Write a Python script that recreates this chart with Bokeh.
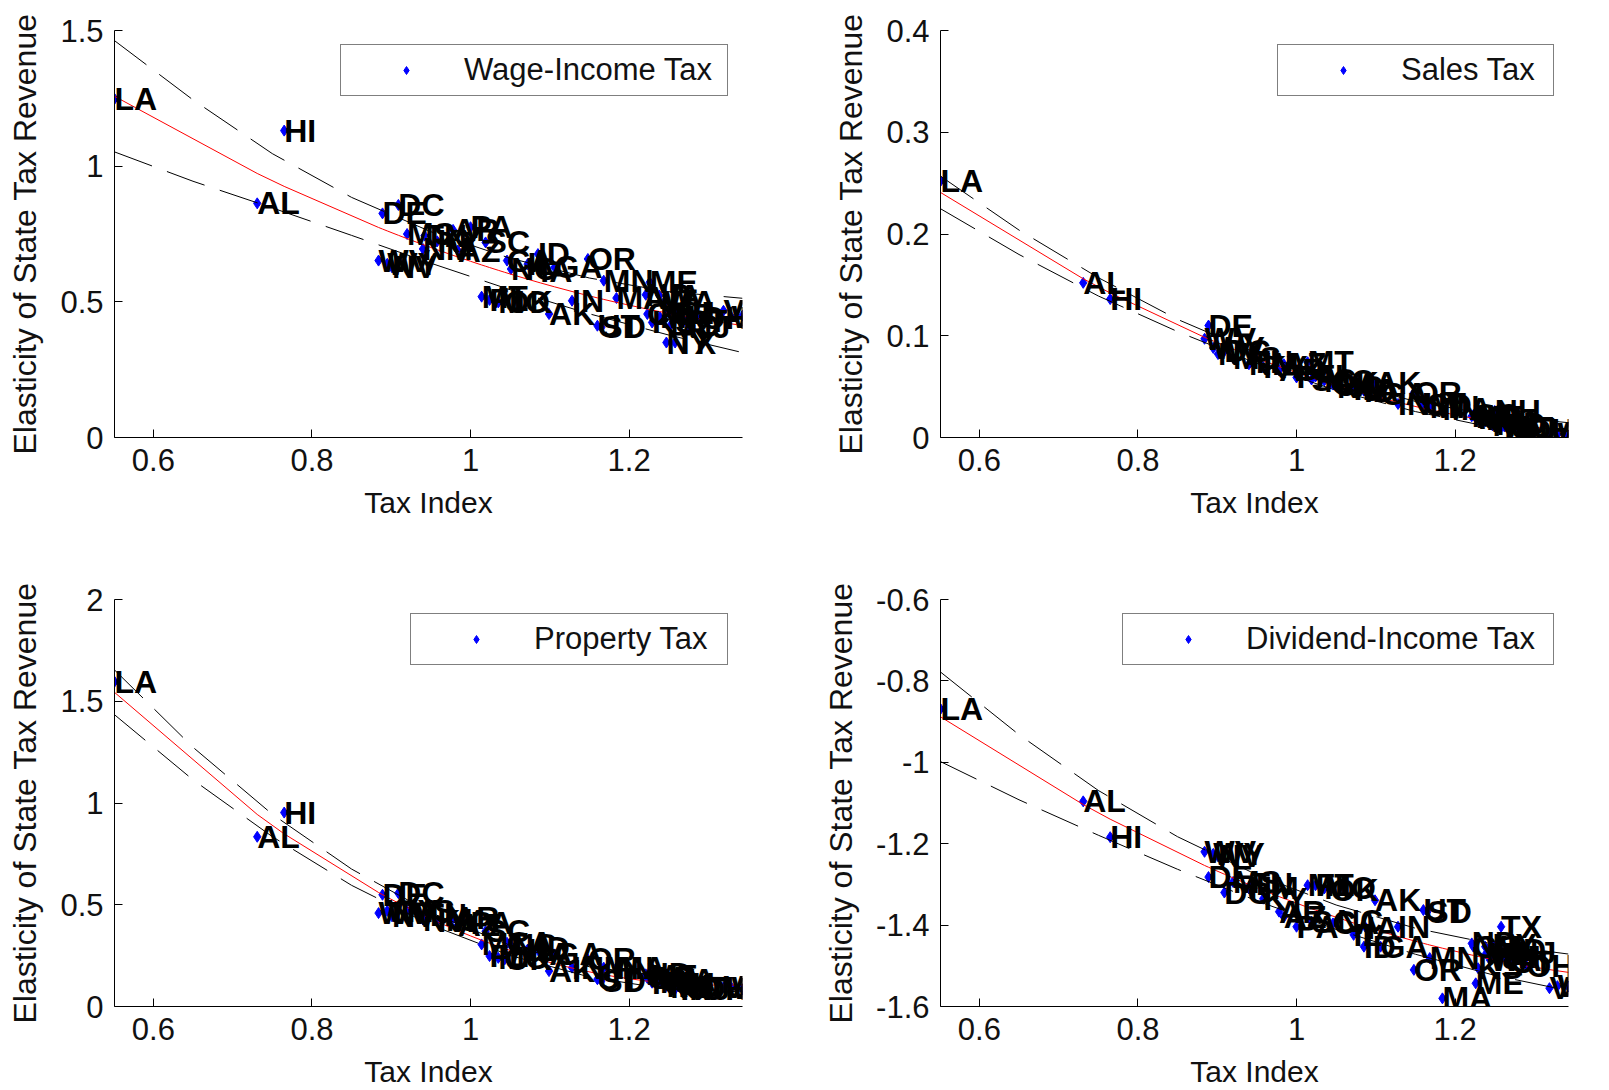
import numpy as np
from bokeh.plotting import figure
from bokeh.models import ColumnDataSource, Label, Range1d, FixedTicker
from bokeh.layouts import gridplot
from bokeh.embed import file_html
from bokeh.resources import INLINE

# ---------------- data ----------------
states = ["LA", "AL", "HI", "WV", "DE", "WY", "NV", "DC", "MS", "NM", "TN", "KY", "AR",
          "AZ", "PA", "MT", "SC", "FL", "MO", "OK", "CA", "NC", "IL", "ID", "IA", "AK",
          "GA", "IN", "OR", "UT", "SD", "MN", "MA", "ND", "CO", "ME", "KS", "VA", "MI",
          "WA", "NY", "NH", "MD", "TX", "RI", "CT", "NJ", "OH", "VT", "WI", "NE"]
tax_index = [0.551, 0.731, 0.765, 0.884, 0.889, 0.895, 0.901, 0.909, 0.920, 0.940, 0.942,
             0.958, 0.978, 0.984, 1.000, 1.014, 1.019, 1.024, 1.035, 1.043, 1.046, 1.051,
             1.072, 1.085, 1.088, 1.099, 1.106, 1.128, 1.148, 1.160, 1.165, 1.168, 1.184,
             1.221, 1.223, 1.226, 1.229, 1.238, 1.239, 1.244, 1.247, 1.250, 1.252, 1.258,
             1.262, 1.270, 1.276, 1.290, 1.319, 1.329, 1.343]
wage = [1.248, 0.863, 1.131, 0.652, 0.826, 0.640, 0.627, 0.857, 0.750, 0.695, 0.744,
        0.723, 0.765, 0.689, 0.775, 0.519, 0.719, 0.507, 0.498, 0.498, 0.652, 0.621,
        0.639, 0.676, 0.615, 0.455, 0.627, 0.504, 0.658, 0.412, 0.406, 0.578, 0.514,
        0.526, 0.455, 0.572, 0.424, 0.523, 0.443, 0.498, 0.350, 0.460, 0.412, 0.350,
        0.460, 0.430, 0.406, 0.440, 0.467, 0.443, 0.449]
sales = [0.252, 0.152, 0.136, 0.097, 0.110, 0.088, 0.082, 0.085, 0.078, 0.072, 0.074,
         0.069, 0.066, 0.072, 0.059, 0.074, 0.057, 0.060, 0.056, 0.054, 0.052, 0.050,
         0.048, 0.046, 0.047, 0.054, 0.043, 0.033, 0.044, 0.033, 0.032, 0.030, 0.028,
         0.021, 0.022, 0.020, 0.019, 0.016, 0.018, 0.015, 0.012, 0.026, 0.013, 0.010,
         0.011, 0.009, 0.008, 0.007, 0.004, 0.003, 0.002]
prop = [1.596, 0.834, 0.953, 0.459, 0.549, 0.470, 0.443, 0.557, 0.470, 0.427, 0.450,
        0.419, 0.435, 0.400, 0.410, 0.305, 0.370, 0.248, 0.239, 0.231, 0.313, 0.300,
        0.280, 0.288, 0.260, 0.174, 0.256, 0.191, 0.231, 0.134, 0.125, 0.191, 0.191,
        0.158, 0.140, 0.150, 0.117, 0.142, 0.120, 0.130, 0.101, 0.110, 0.095, 0.085,
        0.100, 0.090, 0.085, 0.088, 0.095, 0.093, 0.085]
div = [-0.869, -1.096, -1.184, -1.220, -1.282, -1.225, -1.231, -1.320, -1.294, -1.310,
       -1.300, -1.335, -1.367, -1.380, -1.404, -1.302, -1.392, -1.302, -1.310, -1.314,
       -1.396, -1.390, -1.424, -1.453, -1.408, -1.339, -1.453, -1.404, -1.510, -1.363,
       -1.367, -1.481, -1.580, -1.445, -1.453, -1.543, -1.506, -1.453, -1.470, -1.486,
       -1.449, -1.478, -1.460, -1.404, -1.478, -1.490, -1.469, -1.500, -1.555, -1.550,
       -1.551]

# confidence half-width of the quadratic fit, read at these tax-index values
band_x = [0.551, 0.65, 0.75, 0.85, 0.95, 1.05, 1.15, 1.25, 1.343]
wage_band = [0.205, 0.15, 0.10, 0.07, 0.058, 0.058, 0.066, 0.08, 0.10]
sales_band = [0.016, 0.012, 0.009, 0.006, 0.005, 0.005, 0.005, 0.006, 0.008]
prop_band = [0.11, 0.08, 0.055, 0.04, 0.03, 0.025, 0.025, 0.03, 0.035]
div_band = [0.11, 0.08, 0.055, 0.04, 0.032, 0.03, 0.032, 0.038, 0.045]

x_ticks = [0.6, 0.8, 1, 1.2]
x_tick_labels = ["0.6", "0.8", "1", "1.2"]
wage_ticks = [0, 0.5, 1, 1.5]
wage_tick_labels = ["0", "0.5", "1", "1.5"]
sales_ticks = [0, 0.1, 0.2, 0.3, 0.4]
sales_tick_labels = ["0", "0.1", "0.2", "0.3", "0.4"]
prop_ticks = [0, 0.5, 1, 1.5, 2]
prop_tick_labels = ["0", "0.5", "1", "1.5", "2"]
div_ticks = [-1.6, -1.4, -1.2, -1, -0.8, -0.6]
div_tick_labels = ["-1.6", "-1.4", "-1.2", "-1", "-0.8", "-0.6"]

FONT = "Liberation Sans"


def make_panel(name, yvals, yr, yticks, ytlabels, band, borders, legend_label_width):
    L, R, T, B = borders
    p = figure(frame_width=628, frame_height=407,
               x_range=Range1d(min(tax_index), max(tax_index)), y_range=Range1d(*yr),
               output_backend="svg", toolbar_location=None,
               min_border_left=L, min_border_right=R, min_border_top=T, min_border_bottom=B)
    p.xgrid.visible = False
    p.ygrid.visible = False
    p.outline_line_color = None
    p.background_fill_color = "white"

    src = ColumnDataSource(dict(x=tax_index, y=yvals, state=states))
    for sx, sy, st in zip(tax_index, yvals, states):
        p.add_layout(Label(x=sx, y=sy, text=st, text_font=FONT, text_font_style="bold",
                           text_font_size="32px", text_color="black",
                           text_baseline="middle", text_align="left"))

    p.scatter("x", "y", source=src, marker="diamond", size=11,
              fill_color="blue", line_color="blue", legend_label=name)

    # quadratic least-squares fit of the panel's data
    xs = np.array(tax_index)
    coef = np.polyfit(xs, np.array(yvals), 2)
    xfit = np.sort(xs)
    yfit = np.polyval(coef, xfit)
    bx = np.array(band_x)
    by = np.polyval(coef, bx)
    bw = np.array(band)
    p.line(bx, by + bw, line_color="black", line_width=1, line_dash="40 16")
    p.line(bx, by - bw, line_color="black", line_width=1, line_dash="40 16")
    p.line(xfit, yfit, line_color="red", line_width=1)

    p.xaxis.ticker = FixedTicker(ticks=x_ticks)
    p.xaxis.major_label_overrides = dict(zip(x_ticks, x_tick_labels))
    p.yaxis.ticker = FixedTicker(ticks=yticks)
    p.yaxis.major_label_overrides = dict(zip(yticks, ytlabels))
    p.xaxis.axis_label = "Tax Index"
    p.yaxis.axis_label = "Elasticity of State Tax Revenue"
    for ax in (p.xaxis[0], p.yaxis[0]):
        ax.major_tick_in = 8
        ax.major_tick_out = 0
        ax.minor_tick_in = 0
        ax.minor_tick_out = 0
        ax.axis_line_color = "black"
        ax.axis_line_width = 1
        ax.major_tick_line_color = "black"
        ax.major_label_text_font = FONT
        ax.major_label_text_font_size = "31px"
        ax.major_label_text_color = "#111111"
        ax.major_label_standoff = 11
        ax.axis_label_text_font = FONT
        ax.axis_label_text_font_style = "normal"
        ax.axis_label_text_color = "#111111"
    p.xaxis.axis_label_text_font_size = "30px"
    p.yaxis.axis_label_text_font_size = "32px"
    p.xaxis.axis_label_standoff = 12
    p.yaxis.axis_label_standoff = 14

    leg = p.legend[0]
    leg.location = "top_right"
    leg.margin = 14
    leg.padding = 7
    leg.spacing = 0
    leg.glyph_width = 116
    leg.label_standoff = 0
    leg.label_width = legend_label_width
    leg.border_line_color = "black"
    leg.border_line_width = 1
    leg.background_fill_color = "white"
    leg.background_fill_alpha = 1
    leg.label_text_font = FONT
    leg.label_text_font_size = "31px"
    leg.label_text_color = "#111111"
    return p


p1 = make_panel("Wage-Income Tax", wage, (0, 1.5), wage_ticks, wage_tick_labels,
                wage_band, (114, 76, 30, 95), 256)
p2 = make_panel("Sales Tax", sales, (0, 0.4), sales_ticks, sales_tick_labels,
                sales_band, (122, 36, 30, 95), 145)
p3 = make_panel("Property Tax", prop, (0, 2), prop_ticks, prop_tick_labels,
                prop_band, (114, 76, 67, 80), 186)
p4 = make_panel("Dividend-Income Tax", div, (-1.6, -0.6), div_ticks, div_tick_labels,
                div_band, (122, 36, 67, 80), 300)

grid = gridplot([[p1, p2], [p3, p4]], toolbar_location=None)

open("out.html", "w").write(file_html(grid, INLINE))
